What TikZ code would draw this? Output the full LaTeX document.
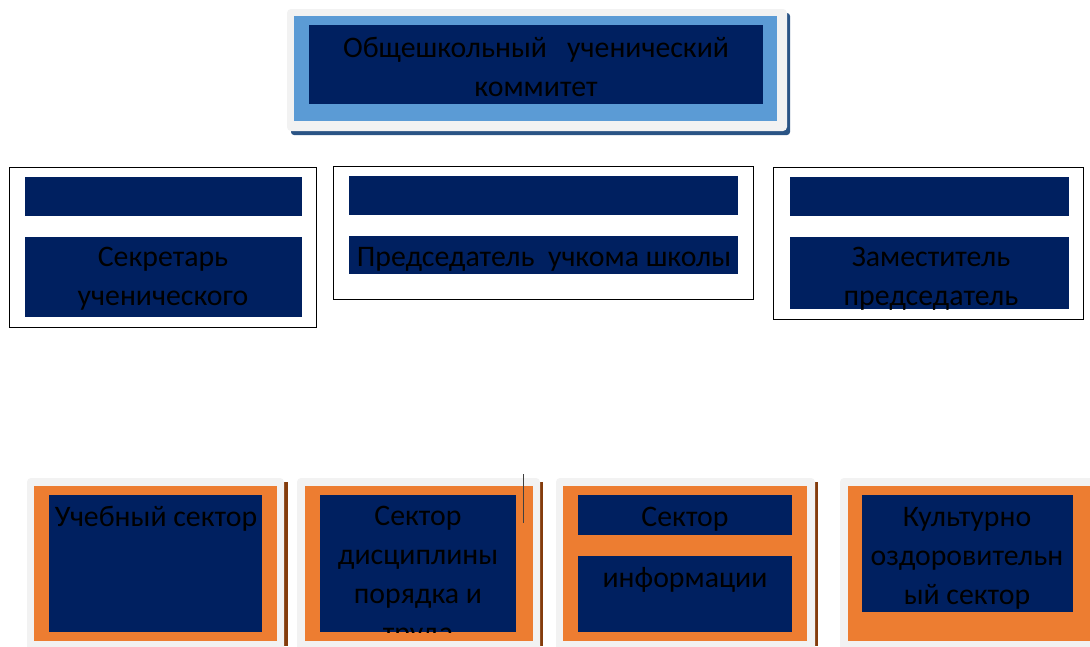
\documentclass[tikz,border=0pt]{standalone}
\usepackage{fontspec}
\setmainfont{Carlito}
\definecolor{navy}{HTML}{002060}
\definecolor{lblue}{HTML}{5B9BD5}
\definecolor{dshadow}{HTML}{2A5485}
\definecolor{lgrey}{HTML}{F2F2F2}
\definecolor{orng}{HTML}{ED7D31}
\definecolor{brwn}{HTML}{843C0C}
\tikzset{
  lbl/.style={align=center, text=black, inner sep=0pt, font=\fontsize{29.8}{39}\selectfont},
  outl/.style={draw=black, line width=1pt},
  frame/.style={fill=lgrey, rounded corners=4pt},
}
\begin{document}
\begin{tikzpicture}[x=1pt,y=-1pt]
\useasboundingbox (0,0) rectangle (1090,646);
\fill[white] (0,0) rectangle (1090,646);
% top box
\fill[dshadow, rounded corners=3pt] (291,13) rectangle (790,135);
\fill[frame] (287,9) rectangle (787,131);
\fill[lblue] (294,16) rectangle (777,121);
\fill[navy] (309,25) rectangle (763,104);
\node[lbl] (top) at (536,67) {Общешкольный\ \ \ ученический\\коммитет};
% left box
\draw[outl] (9,167) rectangle (316,327);
\fill[navy] (25,177) rectangle (302,216);
\fill[navy] (25,237) rectangle (302,317);
\node[lbl] (sec) at (163,279) {Секретарь\\ученического};
% middle box
\draw[outl] (333,166) rectangle (753,299);
\fill[navy] (349,176) rectangle (738,215);
\fill[navy] (349,236) rectangle (738,274);
\node[lbl] (pred) at (544,259) {Председатель\ \ учкома школы};
% right box
\draw[outl] (773,167) rectangle (1083,319);
\fill[navy] (790,177) rectangle (1069,216);
\fill[navy] (790,237) rectangle (1069,309);
\node[lbl] (zam) at (931,279) {Заместитель\\председатель};
% bottom box 1
\fill[brwn] (284,482) rectangle (288,646);
\fill[frame] (27,478) rectangle (284,652);
\fill[orng] (34,486) rectangle (277,641);
\fill[navy] (49,495) rectangle (262,632);
\node[lbl] (ucheb) at (156,519) {Учебный сектор};
% bottom box 2
\fill[brwn] (540,482) rectangle (543,646);
\fill[frame] (297,478) rectangle (540,652);
\fill[orng] (305,486) rectangle (533,641);
\fill[navy] (320,495) rectangle (516,632);
\begin{scope}
\clip (320,495) rectangle (516,632);
\node[lbl] (disc) at (418,577) {Сектор\\дисциплины\\порядка и\\труда};
\end{scope}
% bottom box 3
\fill[brwn] (815,482) rectangle (818,646);
\fill[frame] (556,478) rectangle (815,652);
\fill[orng] (563,486) rectangle (807,641);
\fill[navy] (578,495) rectangle (792,535);
\fill[navy] (578,556) rectangle (792,632);
\node[lbl] (sect) at (685,519) {Сектор};
\node[lbl] (info) at (685,580) {информации};
% bottom box 4
\fill[frame] (840,478) rectangle (1096,652);
\fill[orng] (848,486) rectangle (1096,641);
\fill[navy] (862,495) rectangle (1073,612);
\node[lbl] (kult) at (967,558) {Культурно\\оздоровительн\\ый сектор};
% stray line
\coordinate (s1) at (523,474);
\coordinate (s2) at (523,523);
\draw[black!75, line width=0.8pt] (s1) -- (s2);
\end{tikzpicture}
\end{document}
